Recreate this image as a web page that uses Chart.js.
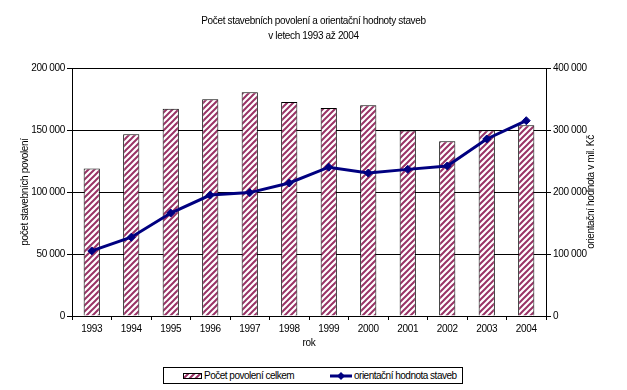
<!DOCTYPE html>
<html>
<head>
<meta charset="utf-8">
<script src="https://cdn.jsdelivr.net/npm/chart.js@4.4.1/dist/chart.umd.min.js"></script>
<style>
  html, body { margin: 0; padding: 0; background: #fff; }
  #wrap { position: relative; width: 627px; height: 390px; }
  #chart { position: absolute; left: 0; top: 0; }
  #legend {
    position: absolute; left: 163px; top: 367px; width: 300px; height: 17px;
    border: 1px solid #000; box-sizing: border-box;
    font: 10px "Liberation Sans", Arial, sans-serif; letter-spacing: -0.5px;
  }
  #legend .item { position: absolute; top: 0; height: 15px; display: flex; align-items: center; white-space: nowrap; }
  #legend canvas { display: block; margin-right: 2px; }
</style>
</head>
<body>
<div id="wrap">
  <canvas id="chart" width="627" height="362"></canvas>
  <div id="legend"></div>
</div>
<script>
const years = ["1993", "1994", "1995", "1996", "1997", "1998", "1999", "2000", "2001", "2002", "2003", "2004"];
const permits = [119000, 146500, 167200, 174700, 180400, 172600, 167700, 170000, 149600, 141000, 149800, 153800];
const buildValue = [105000, 127000, 166000, 195000, 199000, 214500, 240000, 230500, 236500, 242000, 285500, 315000];
const leftTicks = [0, 50000, 100000, 150000, 200000];
const rightTicks = [0, 100000, 200000, 300000, 400000];
const labels = ["Počet povolení celkem", "orientační hodnota staveb"];

const FONT = '"Liberation Sans", Arial, sans-serif';
const FS = 10;
const SPACING = "-0.35px";
const PURPLE = "#993366";
const NAVY = "#000080";

function fmt(n) {
  return String(n).replace(/\B(?=(\d{3})+(?!\d))/g, " ");
}

// šrafování sloupců
function makeHatch(ctx) {
  const c = document.createElement("canvas");
  c.width = 6;
  c.height = 6;
  const g = c.getContext("2d");
  g.fillStyle = "#fff";
  g.fillRect(0, 0, 6, 6);
  g.strokeStyle = PURPLE;
  g.lineWidth = 2;
  g.beginPath();
  g.moveTo(-1, 7); g.lineTo(7, -1);
  g.moveTo(-1, 1); g.lineTo(1, -1);
  g.moveTo(5, 7); g.lineTo(7, 5);
  g.stroke();
  return ctx.createPattern(c, "repeat");
}

const canvas = document.getElementById("chart");
const ctx = canvas.getContext("2d");
const hatch = makeHatch(ctx);

// užší písmo na plátně
const tightText = {
  id: "tightText",
  beforeUpdate(chart) { chart.ctx.letterSpacing = SPACING; },
  beforeDraw(chart) { chart.ctx.letterSpacing = SPACING; },
};

// popisek pravé osy (čte se zdola nahoru)
const rightTitle = {
  id: "rightTitle",
  afterDraw(chart) {
    const a = chart.chartArea;
    const c = chart.ctx;
    c.save();
    c.translate(591, (a.top + a.bottom) / 2);
    c.rotate(-Math.PI / 2);
    c.font = FS + "px " + FONT;
    c.letterSpacing = SPACING;
    c.fillStyle = "#000";
    c.textAlign = "center";
    c.textBaseline = "middle";
    c.fillText("orientační hodnota v mil. Kč", 0, 0);
    c.restore();
  },
};

const chart = new Chart(canvas, {
  type: "bar",
  data: {
    labels: years,
    datasets: [
      {
        label: labels[0],
        data: permits,
        backgroundColor: hatch,
        borderColor: "#000",
        borderWidth: 1,
        barPercentage: 0.41,
        categoryPercentage: 1,
        yAxisID: "y",
        order: 2,
      },
      {
        type: "line",
        label: labels[1],
        data: buildValue,
        borderColor: NAVY,
        backgroundColor: NAVY,
        borderWidth: 3,
        pointStyle: "rectRot",
        pointRadius: 4,
        pointBorderWidth: 1,
        tension: 0,
        yAxisID: "y1",
        order: 1,
      },
    ],
  },
  options: {
    responsive: false,
    animation: false,
    events: [],
    layout: { padding: 0 },
    plugins: {
      legend: { display: false },
      tooltip: { enabled: false },
      title: {
        display: true,
        text: ["Počet stavebních povolení a orientační hodnoty staveb", "v letech 1993 až 2004"],
        color: "#000",
        font: { family: FONT, size: FS, weight: "normal", lineHeight: 1.5 },
        padding: { top: 13.5, bottom: 24.5 },
      },
    },
    scales: {
      x: {
        offset: true,
        grid: { display: true, drawOnChartArea: false, offset: true, color: "#000", tickLength: 4 },
        border: { display: true, color: "#000" },
        ticks: { color: "#000", font: { family: FONT, size: FS }, padding: 3, maxRotation: 0 },
        title: {
          display: true, text: "rok", color: "#000",
          font: { family: FONT, size: FS }, padding: { top: 0, bottom: 13 },
        },
        afterFit(scale) { scale.height = 46; },
      },
      y: {
        position: "left",
        min: leftTicks[0],
        max: leftTicks[leftTicks.length - 1],
        afterBuildTicks(scale) { scale.ticks = leftTicks.map((v) => ({ value: v })); },
        grid: { color: "#000", tickLength: 5 },
        border: { display: true, color: "#000" },
        ticks: { color: "#000", font: { family: FONT, size: FS }, padding: 2, callback: (v) => fmt(v) },
        title: {
          display: true, text: "počet stavebních povolení", color: "#000",
          font: { family: FONT, size: FS }, padding: { top: 19, bottom: 0 },
        },
        afterFit(scale) { scale.width = 72; },
      },
      y1: {
        position: "right",
        min: rightTicks[0],
        max: rightTicks[rightTicks.length - 1],
        afterBuildTicks(scale) { scale.ticks = rightTicks.map((v) => ({ value: v })); },
        grid: { drawOnChartArea: false, color: "#000", tickLength: 5 },
        border: { display: true, color: "#000" },
        ticks: { color: "#000", font: { family: FONT, size: FS }, padding: 2, callback: (v) => fmt(v) },
        afterFit(scale) { scale.width = 81; },
      },
    },
  },
  plugins: [tightText, rightTitle],
});

// legenda pod grafem
const legend = document.getElementById("legend");
function swatchBar() {
  const c = document.createElement("canvas");
  c.width = 19; c.height = 6;
  const g = c.getContext("2d");
  g.fillStyle = makeHatch(g);
  g.fillRect(0, 0, 19, 6);
  g.strokeStyle = "#000";
  g.strokeRect(0.5, 0.5, 18, 5);
  return c;
}
function swatchLine() {
  const c = document.createElement("canvas");
  c.width = 22; c.height = 10;
  const g = c.getContext("2d");
  g.strokeStyle = NAVY;
  g.lineWidth = 3;
  g.beginPath(); g.moveTo(0, 5); g.lineTo(22, 5); g.stroke();
  g.fillStyle = NAVY;
  g.beginPath(); g.moveTo(11, 1); g.lineTo(15, 5); g.lineTo(11, 9); g.lineTo(7, 5); g.closePath(); g.fill();
  return c;
}
const items = [
  { left: 19, sw: swatchBar(), text: chart.data.datasets[0].label },
  { left: 166, sw: swatchLine(), text: chart.data.datasets[1].label },
];
items.forEach((it) => {
  const d = document.createElement("div");
  d.className = "item";
  d.style.left = it.left + "px";
  d.appendChild(it.sw);
  const s = document.createElement("span");
  s.textContent = it.text;
  d.appendChild(s);
  legend.appendChild(d);
});
</script>
</body>
</html>
